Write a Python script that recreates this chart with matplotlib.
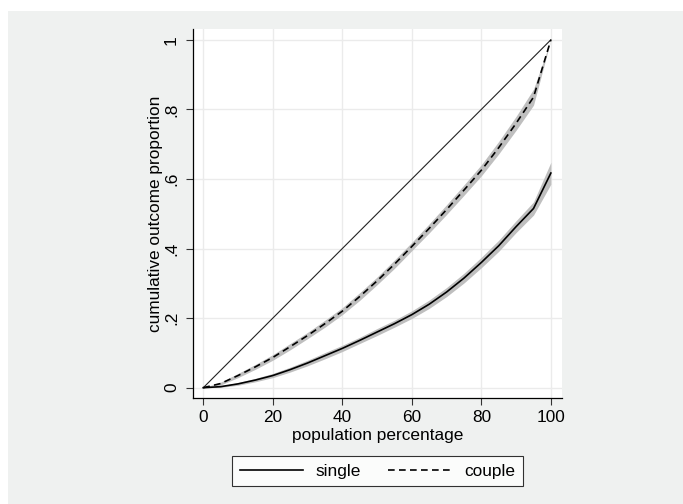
import numpy as np
import matplotlib
matplotlib.use('Agg')
import matplotlib.pyplot as plt
from matplotlib.patches import Rectangle

plt.rcParams['font.family'] = ['Liberation Sans', 'DejaVu Sans']

# population percentage (x) and Lorenz ordinates
pct = [0, 5, 10, 15, 20, 25, 30, 35, 40, 45, 50, 55, 60, 65, 70, 75, 80, 85, 90, 95, 100]

single    = [0, .003, .011, .022, .035, .052, .071, .092, .113, .136, .160, .184, .210, .240, .275, .315, .360, .408, .463, .515, .617]
single_lo = [0, .001, .007, .017, .029, .045, .063, .083, .104, .127, .150, .174, .199, .228, .262, .301, .345, .392, .446, .496, .585]
single_hi = [0, .005, .015, .027, .041, .059, .079, .101, .122, .145, .170, .194, .221, .252, .288, .329, .375, .424, .480, .534, .648]

couple    = [0, .012, .035, .060, .087, .118, .150, .184, .220, .262, .307, .355, .406, .458, .512, .568, .625, .690, .760, .835, 1.0]
couple_lo = [0, .008, .029, .053, .079, .109, .141, .174, .210, .251, .296, .343, .394, .445, .498, .553, .609, .672, .740, .812, 1.0]
couple_hi = [0, .016, .041, .067, .095, .127, .159, .194, .230, .273, .318, .367, .418, .471, .526, .583, .641, .708, .780, .858, 1.0]

xticks = [0, 20, 40, 60, 80, 100]
yticks = [0, .2, .4, .6, .8, 1]
ytick_labels = ['0', '.2', '.4', '.6', '.8', '1']

W, H = 683, 504
FS = 12.4
fig = plt.figure(figsize=(W / 100, H / 100), dpi=100)
fig.patch.set_facecolor('white')
# grey graph region (white strip on the left and top)
fig.patches.append(Rectangle((8 / W, 0), 1 - 8 / W, 1 - 11 / H, transform=fig.transFigure,
                             facecolor='#eff1f0', edgecolor='none', zorder=-10))

ax = fig.add_axes([193 / W, 1 - 398 / H, 369 / W, 369 / H])
ax.set_facecolor('white')

ax.fill_between(pct, couple_lo, couple_hi, color='#bfbfbf', lw=0, zorder=2)
ax.fill_between(pct, single_lo, single_hi, color='#bfbfbf', lw=0, zorder=2)
ax.plot([0, 100], [0, 1], color='#222222', lw=0.8, zorder=3)
ax.plot(pct, single, color='black', lw=1.2, label='single', zorder=4)
ax.plot(pct, couple, color='black', lw=1.2, dashes=(4, 2.6), label='couple', zorder=4)

ax.set_xlim(-2.96, 103.2)
ax.set_ylim(-0.0296, 1.031)
ax.set_xticks(xticks)
ax.set_yticks(yticks)
ax.set_yticklabels(ytick_labels, rotation=90, va='center')
ax.grid(True, color='#ebebeb', lw=1)
ax.set_axisbelow(True)

for s in ['top', 'right']:
    ax.spines[s].set_visible(False)
for s in ['left', 'bottom']:
    ax.spines[s].set_color('black')
    ax.spines[s].set_linewidth(0.9)

ax.tick_params(axis='both', length=5, width=0.8, color='#333333', labelsize=FS, pad=3.5)
ax.tick_params(axis='y', pad=5)
ax.set_xlabel('population percentage', fontsize=FS, labelpad=2.5)
ax.set_ylabel('cumulative outcome proportion', fontsize=FS, labelpad=1)

leg = ax.legend(loc='center', bbox_to_anchor=(377.5 / W, 1 - 471 / H), bbox_transform=fig.transFigure,
                ncol=2, fontsize=FS, frameon=True, fancybox=False, handlelength=3.7,
                columnspacing=1.6, handletextpad=0.7, borderpad=0.45, borderaxespad=0)
leg.get_frame().set_edgecolor('black')
leg.get_frame().set_linewidth(0.8)

plt.savefig('out.png', dpi=100)
